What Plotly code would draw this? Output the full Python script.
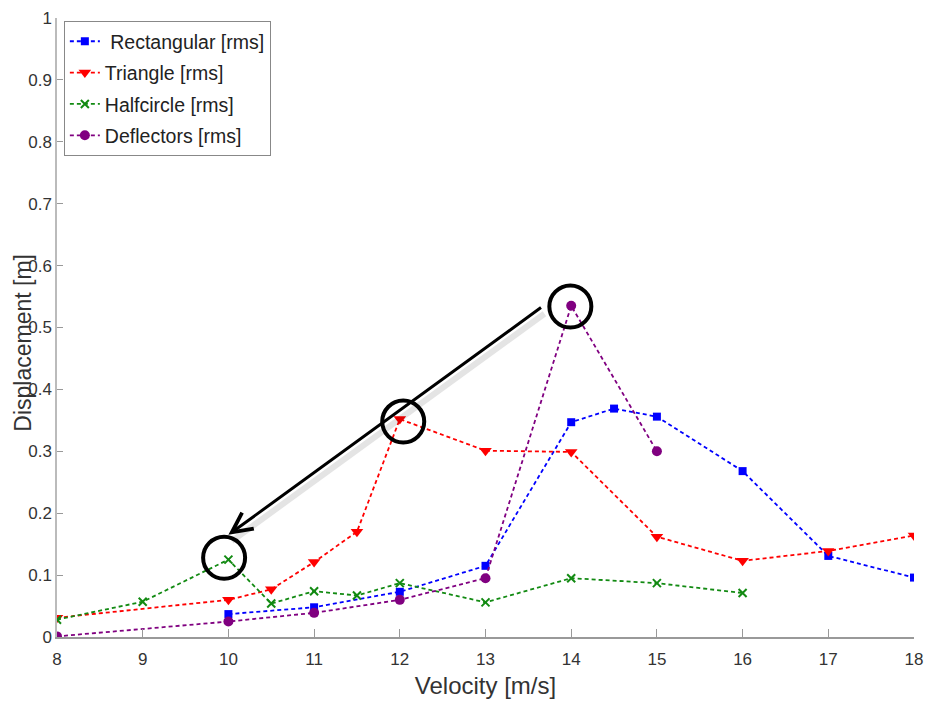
import plotly.graph_objects as go

# ---- data ----
rect_x = [10, 11, 12, 13, 14, 14.5, 15, 16, 17, 18]
rect_y = [0.037, 0.048, 0.073, 0.115, 0.347, 0.369, 0.356, 0.268, 0.131, 0.096]

tri_x = [8, 10, 10.5, 11, 11.5, 12, 13, 14, 15, 16, 17, 18]
tri_y = [0.031, 0.060, 0.077, 0.121, 0.170, 0.352, 0.301, 0.299, 0.162, 0.123, 0.139, 0.164]

half_x = [8, 9, 10, 10.5, 11, 11.5, 12, 13, 14, 15, 16]
half_y = [0.028, 0.057, 0.125, 0.054, 0.074, 0.067, 0.087, 0.056, 0.095, 0.087, 0.071]

defl_x = [8, 10, 11, 12, 13, 14, 15]
defl_y = [0.001, 0.025, 0.039, 0.060, 0.095, 0.535, 0.300]

# highlighted points (circles) and the arrow
circle_x = [9.95, 12.04, 13.99]
circle_y = [0.128, 0.348, 0.534]
arrow_tail = (13.665, 0.534)
arrow_tip = (10.0, 0.165)

x_ticks = list(range(8, 19))
y_ticks = [0, 0.1, 0.2, 0.3, 0.4, 0.5, 0.6, 0.7, 0.8, 0.9, 1]
y_tick_text = ["0", "0.1", "0.2", "0.3", "0.4", "0.5", "0.6", "0.7", "0.8", "0.9", "1"]

FONT = "Liberation Sans, Arial, sans-serif"

fig = go.Figure()

series = [
    ("\u00a0Rectangular [rms]", rect_x, rect_y, "#0000FF", dict(symbol="square", size=8)),
    ("Triangle [rms]", tri_x, tri_y, "#FF0000", dict(symbol="triangle-down", size=11)),
    ("Halfcircle [rms]", half_x, half_y, "#128A12", dict(symbol="x-thin", size=8, line=dict(width=2, color="#128A12"))),
    ("Deflectors [rms]", defl_x, defl_y, "#800080", dict(symbol="circle", size=10)),
]
for i, (name, xs, ys, col, mk) in enumerate(series):
    m = dict(color=col)
    m.update(mk)
    fig.add_trace(go.Scatter(
        x=xs, y=ys, name=name, mode="lines+markers", legendgroup=f"g{i}",
        line=dict(color=col, width=1.8, dash="4px,3px"),
        marker=m,
    ))

shapes = []
for cx, cy in zip(circle_x, circle_y):
    shapes.append(dict(
        type="circle", xref="x", yref="y", xsizemode="pixel", ysizemode="pixel",
        xanchor=cx, yanchor=cy, x0=-21, x1=21, y0=-21, y1=21,
        line=dict(color="black", width=4), layer="above",
    ))

annotations = [
    # shadow
    dict(x=arrow_tip[0] + 0.04, y=arrow_tip[1] - 0.01, ax=arrow_tail[0] + 0.04, ay=arrow_tail[1] - 0.01,
         xref="x", yref="y", axref="x", ayref="y", text="", showarrow=True,
         arrowhead=0, arrowwidth=6, arrowcolor="rgba(0,0,0,0.10)", standoff=0),
    dict(x=arrow_tip[0], y=arrow_tip[1], ax=arrow_tail[0], ay=arrow_tail[1],
         xref="x", yref="y", axref="x", ayref="y", text="", showarrow=True,
         arrowhead=5, arrowsize=1.3, arrowwidth=3, arrowcolor="black", standoff=0),
    # y-axis title
    dict(text="Displacement [m]", textangle=-90, xref="paper", yref="paper",
         x=-0.040, y=0.475, xanchor="center", yanchor="middle", showarrow=False,
         borderpad=0, font=dict(size=23, color="#333333", family=FONT)),
]

# page has an 8px body margin, so the figure is sized to fit the 932x707 window
fig.update_layout(
    width=916, height=691,
    margin=dict(l=49, r=10, t=10, b=62),
    paper_bgcolor="white", plot_bgcolor="white",
    font=dict(family=FONT, color="#222222"),
    showlegend=True,
    legend=dict(
        x=0.008, y=0.995, xanchor="left", yanchor="top",
        bgcolor="white", bordercolor="#888888", borderwidth=1,
        font=dict(size=19.5, family=FONT, color="#222222"),
        itemwidth=30, tracegroupgap=3,
    ),
    xaxis=dict(
        range=[8, 18], tickvals=x_ticks, ticks="inside", ticklen=8, tickcolor="#999999",
        showline=True, linecolor="#999999", linewidth=1.5, showgrid=False, zeroline=False,
        tickfont=dict(size=17, color="#333333"), automargin=False, ticklabeloverflow="allow",
        ticklabelstandoff=6,
        title=dict(text="Velocity [m/s]", font=dict(size=24, color="#333333"), standoff=12),
    ),
    yaxis=dict(
        range=[0, 1], tickvals=y_ticks, ticktext=y_tick_text, ticks="inside", ticklen=6, tickcolor="#999999",
        showline=True, linecolor="#bbbbbb", linewidth=1.5, showgrid=False, zeroline=False,
        tickfont=dict(size=17, color="#333333"), automargin=False, ticklabeloverflow="allow",
    ),
    shapes=shapes,
    annotations=annotations,
)

fig.write_html("out.html")
